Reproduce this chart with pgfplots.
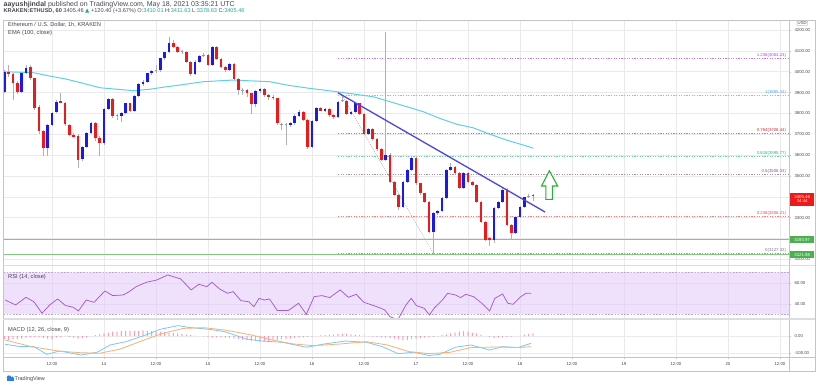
\documentclass[border=0pt]{standalone}
\usepackage{fontspec}
\setmainfont{Liberation Sans}
\newfontfamily\symfont{DejaVu Sans}
\usepackage{pgfplots}
\pgfplotsset{compat=1.18}
\usepackage{pgfplotstable}

\definecolor{cUp}{RGB}{25,25,235}
\definecolor{cDown}{RGB}{238,25,25}
\definecolor{cWick}{RGB}{175,175,185}
\definecolor{cFlat}{RGB}{150,150,160}
\definecolor{cEMA}{RGB}{95,208,228}
\definecolor{cTrend}{RGB}{75,70,228}
\definecolor{cGreenLine}{RGB}{130,200,130}
\definecolor{cGreenBox}{RGB}{76,175,80}
\definecolor{cArrow}{RGB}{40,175,60}
\definecolor{cGrid}{RGB}{234,234,237}
\definecolor{cFrame}{RGB}{195,195,200}
\definecolor{cSep}{RGB}{220,220,225}
\definecolor{cText}{RGB}{70,70,80}
\definecolor{fibA}{RGB}{200,120,240}
\definecolor{fibB}{RGB}{130,195,245}
\definecolor{fibC}{RGB}{235,120,120}
\definecolor{fibD}{RGB}{110,205,165}
\definecolor{fibE}{RGB}{175,145,170}
\definecolor{fibF}{RGB}{240,130,130}
\definecolor{fibG}{RGB}{160,160,170}
\definecolor{tfibA}{RGB}{175,70,225}
\definecolor{tfibB}{RGB}{80,165,235}
\definecolor{tfibC}{RGB}{200,50,50}
\definecolor{tfibD}{RGB}{40,175,120}
\definecolor{tfibE}{RGB}{130,95,125}
\definecolor{tfibF}{RGB}{225,80,80}
\definecolor{tfibG}{RGB}{120,120,130}
\definecolor{cRSI}{RGB}{165,90,205}
\definecolor{cRSIband}{RGB}{226,200,248}
\definecolor{cRSIdash}{RGB}{190,170,205}
\definecolor{cMACD}{RGB}{120,200,248}
\definecolor{cSignal}{RGB}{248,175,120}
\definecolor{cHist}{RGB}{240,110,150}
\definecolor{cTeal}{RGB}{38,166,154}
\definecolor{cLogo}{RGB}{40,130,230}

\def\fA{\fontsize{4.3}{5}\selectfont}
\def\fB{\fontsize{5.7}{6}\selectfont}

\pgfplotstableread{
x o h l c
1 3904 4008 3896 4000
5 3901 3997 3896 3992
6 3992 4032 3988 4019
11 3633 3750 3596 3744
12 3744 3808 3738 3803
13 3808 3862 3800 3856
19 3580 3645 3570 3640
20 3640 3712 3635 3707
21 3707 3760 3700 3753
24 3660 3825 3650 3820
25 3820 3875 3815 3869
28 3788 3805 3760 3800
29 3800 3852 3795 3848
31 3812 3888 3808 3883
32 3883 3945 3878 3940
33 3940 3958 3930 3952
34 3952 3995 3948 3992
35 3992 4008 3985 4005
37 4006 4068 4000 4064
38 4064 4095 4058 4093
39 4093 4165 4088 4136
45 3989 4055 3984 4048
46 4048 4078 4042 4075
49 4032 4125 4028 4117
53 4008 4040 4003 4035
59 3845 3912 3830 3907
60 3907 3920 3900 3917
67 3744 3760 3735 3753
68 3753 3795 3745 3788
69 3788 3816 3782 3808
72 3640 3770 3632 3765
73 3765 3830 3760 3825
75 3813 3825 3805 3821
78 3781 3860 3776 3856
81 3796 3812 3790 3808
82 3808 3852 3800 3848
85 3700 3728 3695 3724
89 3577 4190 3570 3600
93 3352 3478 3345 3472
94 3472 3535 3465 3529
95 3529 3590 3522 3585
100 3233 3325 3127.32 3321
101 3321 3338 3315 3332
102 3332 3398 3325 3393
103 3393 3533 3388 3529
104 3529 3562 3522 3545
107 3444 3518 3438 3513
114 3193 3350 3180 3348
115 3348 3380 3342 3376
116 3376 3442 3370 3433
119 3225 3310 3220 3305
120 3305 3356 3300 3352
121 3352 3400 3348 3397
}\upc

\pgfplotstableread{
x o h l c
2 4000 4030 3976 3988
3 3988 3995 3864 3947
4 3947 3955 3895 3901
7 4024 4030 3962 3968
8 3968 3972 3815 3824
9 3832 3840 3700 3717
10 3717 3722 3596 3633
14 3859 3899 3848 3851
15 3851 3856 3740 3749
16 3744 3750 3690 3696
17 3696 3705 3680 3688
18 3693 3700 3538 3577
22 3753 3760 3670 3680
23 3680 3690 3596 3660
26 3869 3875 3780 3788
30 3848 3852 3805 3812
40 4136 4150 4115 4120
41 4120 4125 4090 4096
43 4096 4100 4040 4048
44 4048 4052 3980 3989
48 4080 4085 4025 4032
50 4117 4122 4055 4059
51 4059 4065 4018 4021
52 4021 4025 4000 4008
54 4035 4040 3960 3964
55 3964 3968 3890 3912
57 3912 3918 3880 3896
58 3896 3900 3797 3845
61 3917 3922 3880 3888
62 3888 3895 3864 3880
63 3880 3888 3862 3872
64 3872 3876 3745 3755
70 3808 3812 3762 3768
71 3768 3772 3630 3640
74 3825 3830 3810 3813
76 3821 3826 3785 3792
77 3792 3798 3775 3781
80 3859 3864 3790 3796
83 3848 3850 3790 3796
84 3796 3800 3695 3700
86 3724 3728 3670 3676
87 3676 3680 3622 3628
88 3628 3632 3570 3577
90 3600 3610 3465 3472
91 3472 3478 3405 3409
92 3409 3412 3337 3352
96 3585 3590 3458 3464
97 3464 3468 3410 3417
98 3417 3420 3370 3376
99 3376 3380 3225 3233
105 3545 3550 3508 3513
106 3513 3518 3438 3444
108 3513 3518 3465 3470
109 3470 3478 3450 3457
110 3457 3462 3370 3376
111 3376 3380 3275 3281
112 3281 3285 3190 3193
113 3201 3205 3164 3193
117 3433 3442 3260 3265
118 3265 3270 3193 3225
123 3410.01 3411.63 3378.63 3405.46
}\downc

\pgfplotstableread{
x o h l c
27 3786 3795 3770 3790
36 4004 4030 3995 4008
42 4094 4102 4085 4098
47 4078 4090 4070 4082
56 3908 3920 3890 3912
65 3746 3755 3720 3750
66 3746 3752 3648 3750
79 3860 3885.34 3855 3864
122 3402 3412 3395 3406
}\flatc

\pgfplotstableread{
x h
1 -20
2 -22
3 -20
4 -18
5 -15
6 -12
7 -8
8 -5
9 -8
10 -12
11 -15
12 -20
13 -10
14 -5
15 0
16 -5
17 -10
18 -15
19 -12
20 -8
21 0
22 5
23 10
24 15
25 20
26 25
27 25
28 28
29 28
30 30
31 30
32 30
33 32
34 30
35 28
36 25
37 25
38 22
39 20
40 18
41 15
42 12
43 8
44 5
45 2
46 0
47 -2
48 -5
49 -8
50 -8
51 -8
52 -10
53 -12
54 -15
55 -18
56 -22
57 -25
58 -28
59 -30
60 -32
61 -30
62 -28
63 -25
64 -22
65 -20
66 -18
67 -15
68 -12
69 -10
70 -8
71 -5
72 -3
73 0
74 3
75 5
76 8
77 10
78 12
79 13
80 12
81 10
82 8
83 5
84 2
85 0
86 -3
87 -5
88 -8
89 -10
90 -12
91 -15
92 -20
93 -25
94 -22
95 -18
96 -15
97 -12
98 -10
99 -8
100 -5
101 -2
102 5
103 10
104 15
105 20
106 25
107 28
108 25
109 20
110 15
111 8
112 0
113 -8
114 -12
115 -10
116 -8
117 -5
118 -3
119 0
120 2
121 8
122 12
123 15
}\histc

\pgfplotsset{
  tvbase/.style={
    scale only axis, width=785.7pt,
    xmin=0.76, xmax=182.1,
    axis line style={draw=none},
    xtick={12,24,...,180},
    xmajorgrids, ymajorgrids,
    grid style={cGrid, line width=0.5pt},
    tick align=outside,
    major tick length=2pt,
    tick style={cFrame, line width=0.4pt},
    ytick pos=right, yticklabel pos=right, xtick pos=bottom,
    yticklabel style={font=\fA, text=cText},
    xticklabel style={font=\fA, text=cText},
    yticklabel={\pgfmathprintnumber[fixed, fixed zerofill, precision=2, 1000 sep={}, assume math mode=true]{\tick}},
  },
  wick/.style={draw=none, mark=none, forget plot,
    error bars/y dir=plus, error bars/y explicit, error bars/error mark=none,
    error bars/error bar style={line width=0.5pt, draw=cWick, solid}},
  body/.style={draw=none, mark=none, forget plot,
    error bars/y dir=plus, error bars/y explicit, error bars/error mark=none,
    error bars/error bar style={line width=2.8pt, draw=#1, solid}},
  fibline/.style={#1, dash pattern=on 1.2pt off 1.4pt, line width=0.6pt},
}

\begin{document}
\begin{tikzpicture}
\path[use as bounding box] (0pt,0pt) rectangle (821pt,388pt);

% ---------------- main price pane ----------------
\begin{scope}[shift={(3.3pt,122.5pt)}]
\begin{axis}[tvbase, at={(0pt,0pt)}, anchor=south west, height=245.5pt,
  ymin=3070.5, ymax=4248, ytick={3100,3200,...,4200},
  xticklabels={}, xtick style={draw=none}, clip mode=individual]

\addplot[fibline=fibA] coordinates {(78,4064.23) (182.1,4064.23)};
\addplot[fibline=fibB] coordinates {(78,3885.34) (182.1,3885.34)};
\addplot[fibline=fibC] coordinates {(78,3706.44) (182.1,3706.44)};
\addplot[fibline=fibD] coordinates {(78,3595.77) (182.1,3595.77)};
\addplot[fibline=fibE] coordinates {(78,3506.33) (182.1,3506.33)};
\addplot[fibline=fibF] coordinates {(78,3306.21) (182.1,3306.21)};
\addplot[fibline=fibG] coordinates {(78,3127.32) (182.1,3127.32)};
\addplot[fibG, dash pattern=on 0.8pt off 1.2pt, line width=0.5pt] coordinates {(79,3885.34) (100,3127.32)};

\addplot[cGreenLine, line width=1.2pt] coordinates {(0.76,3193.97) (182.1,3193.97)};
\addplot[cGreenLine, line width=1.2pt] coordinates {(0.76,3121.98) (182.1,3121.98)};

\addplot[cEMA, line width=1pt] coordinates {
(0.76,4000) (7.7,3995) (11.5,3979) (15.4,3964) (19.2,3944) (23.1,3923) (26.9,3916)
(30.8,3909) (34.6,3916) (38.5,3928) (41.5,3936) (46.9,3952) (53.8,3960) (62.3,3952)
(66.2,3936) (71.5,3920) (77.7,3904) (86.1,3880) (93.9,3832) (97.7,3808) (101.5,3776)
(105.4,3748) (109.2,3731) (113.1,3700) (116.9,3672) (120.8,3648) (123.1,3633)};

\addplot[wick] table[x=x, y=l, y error plus expr=\thisrow{h}-\thisrow{l}] {\upc};
\addplot[wick] table[x=x, y=l, y error plus expr=\thisrow{h}-\thisrow{l}] {\downc};
\addplot[wick] table[x=x, y=l, y error plus expr=\thisrow{h}-\thisrow{l}] {\flatc};
\addplot[body=cUp] table[x=x, y=o, y error plus expr=\thisrow{c}-\thisrow{o}] {\upc};
\addplot[body=cDown] table[x=x, y=c, y error plus expr=\thisrow{o}-\thisrow{c}] {\downc};
\addplot[body=cFlat] table[x=x, y=o, y error plus expr=\thisrow{c}-\thisrow{o}] {\flatc};

\addplot[cTrend, line width=1.3pt] coordinates {(78,3899) (125.8,3327)};

\addplot[cArrow, line width=1.1pt, fill=white, line join=miter] coordinates {
(126.8,3525) (128.7,3452) (127.5,3452) (127.5,3388) (126.0,3388) (126.0,3452) (125.0,3452)} -- cycle;

\node[anchor=south east, font=\fA, text=tfibA, inner sep=0.6pt] at (axis cs:181.6,4064.23) {1.236(4064.23)};
\node[anchor=south east, font=\fA, text=tfibB, inner sep=0.6pt] at (axis cs:181.6,3885.34) {1(3885.34)};
\node[anchor=south east, font=\fA, text=tfibC, inner sep=0.6pt] at (axis cs:181.6,3706.44) {0.764(3706.44)};
\node[anchor=south east, font=\fA, text=tfibD, inner sep=0.6pt] at (axis cs:181.6,3595.77) {0.618(3595.77)};
\node[anchor=south east, font=\fA, text=tfibE, inner sep=0.6pt] at (axis cs:181.6,3506.33) {0.5(3506.33)};
\node[anchor=south east, font=\fA, text=tfibF, inner sep=0.6pt] at (axis cs:181.6,3306.21) {0.236(3306.21)};
\node[anchor=south east, font=\fA, text=tfibG, inner sep=0.6pt] at (axis cs:181.6,3127.32) {0(3127.32)};

\node[anchor=north, fill=cDown, text=white, font=\fA, minimum width=24pt, minimum height=13pt,
  inner sep=0.5pt, align=center] at (axis cs:185.15,3421) {3405.46\\[-0.5pt]24:44};
\node[fill=cGreenBox, text=white, font=\fA, minimum width=24pt, minimum height=7pt, inner sep=0pt]
  at (axis cs:185.15,3193.97) {3193.97};
\node[fill=cGreenBox, text=white, font=\fA, minimum width=24pt, minimum height=7pt, inner sep=0pt]
  at (axis cs:185.15,3121.98) {3121.98};
\node[draw=cFrame, text=cText, font=\fA, inner sep=0.8pt, rounded corners=0.8pt]
  at (axis cs:185.15,4232) {USD};
\end{axis}
\end{scope}

% ---------------- RSI pane ----------------
\begin{scope}[shift={(3.3pt,69pt)}]
\begin{axis}[tvbase, at={(0pt,0pt)}, anchor=south west, height=53.5pt,
  ymin=25.5, ymax=76.5, ytick={40,60}, xticklabels={}, xtick style={draw=none}]
\addplot[fill=cRSIband, fill opacity=0.55, draw=none] coordinates {(0.76,30) (182.1,30) (182.1,70) (0.76,70)} -- cycle;
\addplot[cRSIdash, dash pattern=on 1.6pt off 1.6pt, line width=0.5pt] coordinates {(0.76,70) (182.1,70)};
\addplot[cRSIdash, dash pattern=on 1.6pt off 1.6pt, line width=0.5pt] coordinates {(0.76,30) (182.1,30)};
\addplot[cRSI, line width=0.75pt] coordinates {
(1.2,43.6) (3.6,38.9) (6.0,46.2) (7.8,42) (9.7,31) (11.5,39) (13.3,44.6) (15.1,38.3)
(16.9,36.7) (18.1,33.2) (19.9,43.6) (21.7,41.4) (24.2,52.2) (26.0,47.8) (28.4,48.4)
(29.6,51) (31.4,56.3) (33.8,60.5) (36.2,62.7) (38.7,67.5) (41.7,63.7) (44.1,53.2)
(45.9,58.6) (47.7,56.3) (48.9,60.5) (50.7,54.1) (52.5,50) (53.8,51.6) (55.6,43)
(57.4,42) (58.6,37.3) (59.8,45.2) (61.0,43.6) (62.2,44.6) (64.0,33.5) (66.5,33.5)
(68.9,40.5) (70.7,30) (72.5,46.8) (74.3,47.8) (76.1,45.9) (78.5,53.2) (80.4,46.2)
(82.2,49) (84.0,41.4) (85.8,38.9) (87.6,36.3) (88.8,34.1) (90.0,27.8) (91.8,24.6)
(93.7,38.9) (94.9,45.2) (96.1,38.3) (97.9,35.7) (99.1,29.4) (100.3,36.3) (102.1,43.6)
(103.3,50) (105.1,48.4) (106.3,45.9) (107.5,49) (109.3,46.8) (111.2,40.5) (113.0,33.2)
(114.2,45.2) (116.0,49.4) (117.2,40.5) (118.4,39.5) (120.2,46.8) (121.4,50) (122.6,50)};
\end{axis}
\end{scope}

% ---------------- MACD pane ----------------
\begin{scope}[shift={(3.3pt,31pt)}]
\begin{axis}[tvbase, at={(0pt,0pt)}, anchor=south west, height=38pt,
  ymin=-121.4, ymax=98.3, ytick={-100,0},
  xticklabels={12:00,14,12:00,15,12:00,16,12:00,17,12:00,18,12:00,19,12:00,20,12:00}]
\addplot[ybar, bar width=0.7pt, fill=cHist, draw=none] table[x=x, y=h] {\histc};
\addplot[cMACD, line width=0.8pt] coordinates {
(1.2,-48) (4.8,-61.5) (7.8,-61.5) (10.8,-106) (13.8,-86.5) (18.7,-110) (22.4,-94)
(25.4,-52) (29.0,-33) (33.2,2) (36.9,38.5) (41.1,60) (43.5,50) (48.3,38.5) (51.9,25)
(56.8,-17) (60.4,-29) (65.2,-36.5) (70.7,-65) (74.9,-46) (79.7,-29) (84.6,-36.5)
(88.2,-61.5) (91.9,-102) (95.5,-94) (99.1,-113) (101.5,-106) (105.1,-65) (108.7,-52)
(113.0,-81) (116.0,-61.5) (119.6,-67) (122.6,-42)};
\addplot[cSignal, line width=0.8pt] coordinates {
(1.2,-23) (7.2,-61.5) (13.3,-86.5) (18.1,-96) (23.0,-100) (27.8,-75) (32.6,-29)
(37.5,15) (42.3,44) (47.1,48) (51.9,34.6) (58.0,6) (62.8,-23) (67.7,-46) (72.5,-56)
(78.5,-46) (84.6,-33) (89.4,-52) (94.3,-90) (99.1,-102) (103.9,-94) (108.7,-67)
(114.8,-63.5) (119.6,-67) (122.6,-61.5)};
\end{axis}
\end{scope}

% ---------------- frames ----------------
\draw[cFrame, line width=0.6pt] (3.3pt,17pt) rectangle (815pt,367.5pt);
\draw[cFrame, line width=0.6pt] (789pt,17pt) -- (789pt,367.5pt);
\draw[cSep, line width=1.2pt] (3.3pt,122.5pt) -- (815pt,122.5pt);
\draw[cSep, line width=1.2pt] (3.3pt,69pt) -- (815pt,69pt);
\draw[cFrame, line width=0.6pt] (3.3pt,31pt) -- (815pt,31pt);

% ---------------- texts ----------------
\node[anchor=west, font=\fontsize{7}{7}\selectfont, text=cText, inner sep=0] at (3.5pt,383.5pt)
  {\textbf{aayushjindal} published on TradingView.com, May 18, 2021 03:35:21 UTC};
\node[anchor=west, font=\fontsize{5.6}{6}\selectfont, text=cText, inner sep=0] at (3.5pt,376.8pt)
  {\textbf{KRAKEN:ETHUSD, 60} 3405.46 {\symfont\color{cTeal}▲} +120.40 (+3.67\%) O:{\color{cTeal}3410.01} H:{\color{cTeal}3411.63} L:{\color{cTeal}3378.63} C:{\color{cTeal}3405.46}};
\node[anchor=west, font=\fB, text=cText, inner sep=0] at (8pt,363pt) {Ethereum / U.S. Dollar, 1h, KRAKEN};
\node[anchor=west, font=\fB, text=cText, inner sep=0] at (8pt,355.3pt) {EMA (100, close)};
\node[anchor=west, font=\fB, text=cText, inner sep=0] at (8pt,110.5pt) {RSI (14, close)};
\node[anchor=west, font=\fB, text=cText, inner sep=0] at (8pt,57.5pt) {MACD (12, 26, close, 9)};

\fill[cLogo] (7pt,7pt) rectangle (13.5pt,10.5pt);
\fill[cLogo] (9pt,10.5pt) circle (2.2pt);
\fill[cLogo] (12.2pt,10pt) circle (1.6pt);
\node[anchor=west, font=\fontsize{5.5}{6}\selectfont, text=cText, inner sep=0] at (14.5pt,9pt) {TradingView};
\end{tikzpicture}
\end{document}
